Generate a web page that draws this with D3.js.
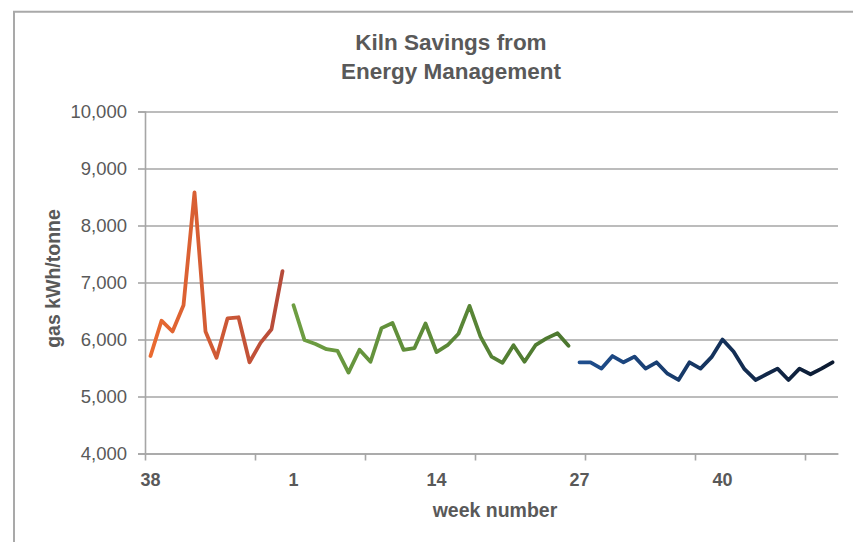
<!DOCTYPE html>
<html>
<head>
<meta charset="utf-8">
<script src="https://cdn.jsdelivr.net/npm/d3@7"></script>
<style>
  html, body { margin: 0; padding: 0; background: #fff; }
  svg { display: block; font-family: "Liberation Sans", Arial, Helvetica, sans-serif; }
</style>
</head>
<body>
<svg id="chart" width="853" height="542"></svg>
<script>
// Week labels: tail of the previous year, then the current year
const weeksPrev = [38, 39, 40, 41, 42, 43, 44, 45, 46, 47, 48, 49, 50];
const weeksCurr = [1, 2, 3, 4, 5, 6, 7, 8, 9, 10, 11, 12, 13, 14, 15, 16, 17, 18, 19, 20,
                   21, 22, 23, 24, 25, 26, 27, 28, 29, 30, 31, 32, 33, 34, 35, 36, 37, 38, 39, 40,
                   41, 42, 43, 44, 45, 46, 47, 48, 49, 50];

// Gas use per tonne, kWh — before, during and after energy management
const baseline = [5710, 6330, 6140, 6600, 8580, 6140, 5680, 6370, 6390, 5600, 5940, 6180, 7200];
const phaseOne = [6600, 5990, 5920, 5830, 5800, 5420, 5820, 5610, 6200, 6290, 5820, 5850, 6280,
                  5780, 5900, 6100, 6590, 6050, 5700, 5590, 5900, 5610, 5900, 6020, 6110, 5890];
const phaseTwo = [5600, 5600, 5490, 5710, 5600, 5700, 5490, 5600, 5400, 5290, 5600, 5490, 5690,
                  6000, 5790, 5480, 5290, 5390, 5490, 5290, 5490, 5390, 5490, 5600];

const yTicks = [4000, 5000, 6000, 7000, 8000, 9000, 10000];
const labelEvery = 13;
const tickEvery = 10;

const weeks = weeksPrev.concat(weeksCurr);
const idx = d3.range(weeks.length);

const series = [
  { values: baseline, start: 0, colors: ["#ea6a30", "#b54a3a"] },
  { values: phaseOne, start: baseline.length, colors: ["#6e9e42", "#4c772f"] },
  { values: phaseTwo, start: baseline.length + phaseOne.length, colors: ["#1f4f8f", "#0c1a30"] }
];

const svg = d3.select("#chart");
const plot = { left: 145, right: 838, top: 111.5, bottom: 453.5 };

// chart frame
svg.append("path")
  .attr("d", "M14,542 L14,11.7 L853,11.7")
  .attr("fill", "none")
  .attr("stroke", "#a9a9a9")
  .attr("stroke-width", 2);

const x = d3.scaleBand().domain(idx).range([plot.left, plot.right]).padding(0);
const xEdge = d3.scaleLinear().domain([0, weeks.length]).range([plot.left, plot.right]);
const y = d3.scaleLinear().domain([4000, 10000]).range([plot.bottom, plot.top]);

const grey = "#a6a6a6";
const textGrey = "#595959";

// horizontal gridlines
svg.append("g")
  .attr("transform", `translate(${plot.left},0)`)
  .call(d3.axisLeft(y).tickValues(yTicks).tickSize(-(plot.right - plot.left)).tickFormat(""))
  .call(g => g.select(".domain").remove())
  .call(g => g.selectAll("line").attr("stroke", grey).attr("stroke-width", 1.6));

// y axis
svg.append("g")
  .attr("transform", `translate(${plot.left},0)`)
  .call(d3.axisLeft(y).tickValues(yTicks).tickSize(7).tickPadding(11).tickFormat(d3.format(",")))
  .call(g => g.select(".domain").attr("stroke", grey).attr("stroke-width", 1.6))
  .call(g => g.selectAll("line").attr("stroke", grey).attr("stroke-width", 1.6))
  .call(g => g.selectAll("text")
    .attr("fill", textGrey)
    .attr("font-size", 18.5)
    .attr("font-family", "'Liberation Sans', Arial, sans-serif"));

// x axis tick marks at category boundaries
svg.append("g")
  .attr("transform", `translate(0,${plot.bottom})`)
  .call(d3.axisBottom(xEdge)
    .tickValues(d3.range(0, weeks.length + 1, tickEvery))
    .tickSize(7).tickSizeOuter(0).tickFormat(""))
  .call(g => g.select(".domain").attr("stroke", grey).attr("stroke-width", 1.6))
  .call(g => g.selectAll("line").attr("stroke", grey).attr("stroke-width", 1.6));

// x axis week labels
svg.append("g")
  .attr("transform", `translate(0,${plot.bottom})`)
  .call(d3.axisBottom(x)
    .tickValues(idx.filter(i => i % labelEvery === 0))
    .tickSize(0).tickPadding(20)
    .tickFormat(i => weeks[i]))
  .call(g => g.select(".domain").remove())
  .call(g => g.selectAll("text")
    .attr("fill", textGrey)
    .attr("font-size", 18)
    .attr("font-weight", "bold")
    .attr("font-family", "'Liberation Sans', Arial, sans-serif"));

// line colour gradients
const defs = svg.append("defs");
series.forEach((s, k) => {
  const grad = defs.append("linearGradient")
    .attr("id", "grad" + k)
    .attr("gradientUnits", "userSpaceOnUse")
    .attr("x1", x(s.start) + x.bandwidth() / 2)
    .attr("x2", x(s.start + s.values.length - 1) + x.bandwidth() / 2)
    .attr("y1", 0).attr("y2", 0);
  grad.append("stop").attr("offset", "0%").attr("stop-color", s.colors[0]);
  grad.append("stop").attr("offset", "100%").attr("stop-color", s.colors[1]);
});

const line = d3.line()
  .x(d => x(d.i) + x.bandwidth() / 2)
  .y(d => y(d.v));

svg.append("g")
  .selectAll("path")
  .data(series)
  .join("path")
  .attr("d", s => line(s.values.map((v, j) => ({ i: s.start + j, v }))))
  .attr("fill", "none")
  .attr("stroke", (s, k) => `url(#grad${k})`)
  .attr("stroke-width", 3.8)
  .attr("stroke-linejoin", "round")
  .attr("stroke-linecap", "round");

// titles
const title = svg.append("text")
  .attr("x", 451)
  .attr("text-anchor", "middle")
  .attr("fill", textGrey)
  .attr("font-size", 22.5)
  .attr("font-weight", "bold");
title.append("tspan").attr("x", 451).attr("y", 50).text("Kiln Savings from");
title.append("tspan").attr("x", 451).attr("y", 79).text("Energy Management");

svg.append("text")
  .attr("x", 495)
  .attr("y", 517)
  .attr("text-anchor", "middle")
  .attr("fill", textGrey)
  .attr("font-size", 19.5)
  .attr("font-weight", "bold")
  .text("week number");

svg.append("text")
  .attr("transform", `translate(60,${(plot.top + plot.bottom) / 2 - 4}) rotate(-90)`)
  .attr("text-anchor", "middle")
  .attr("fill", textGrey)
  .attr("font-size", 19.5)
  .attr("font-weight", "bold")
  .text("gas kWh/tonne");
</script>
</body>
</html>
